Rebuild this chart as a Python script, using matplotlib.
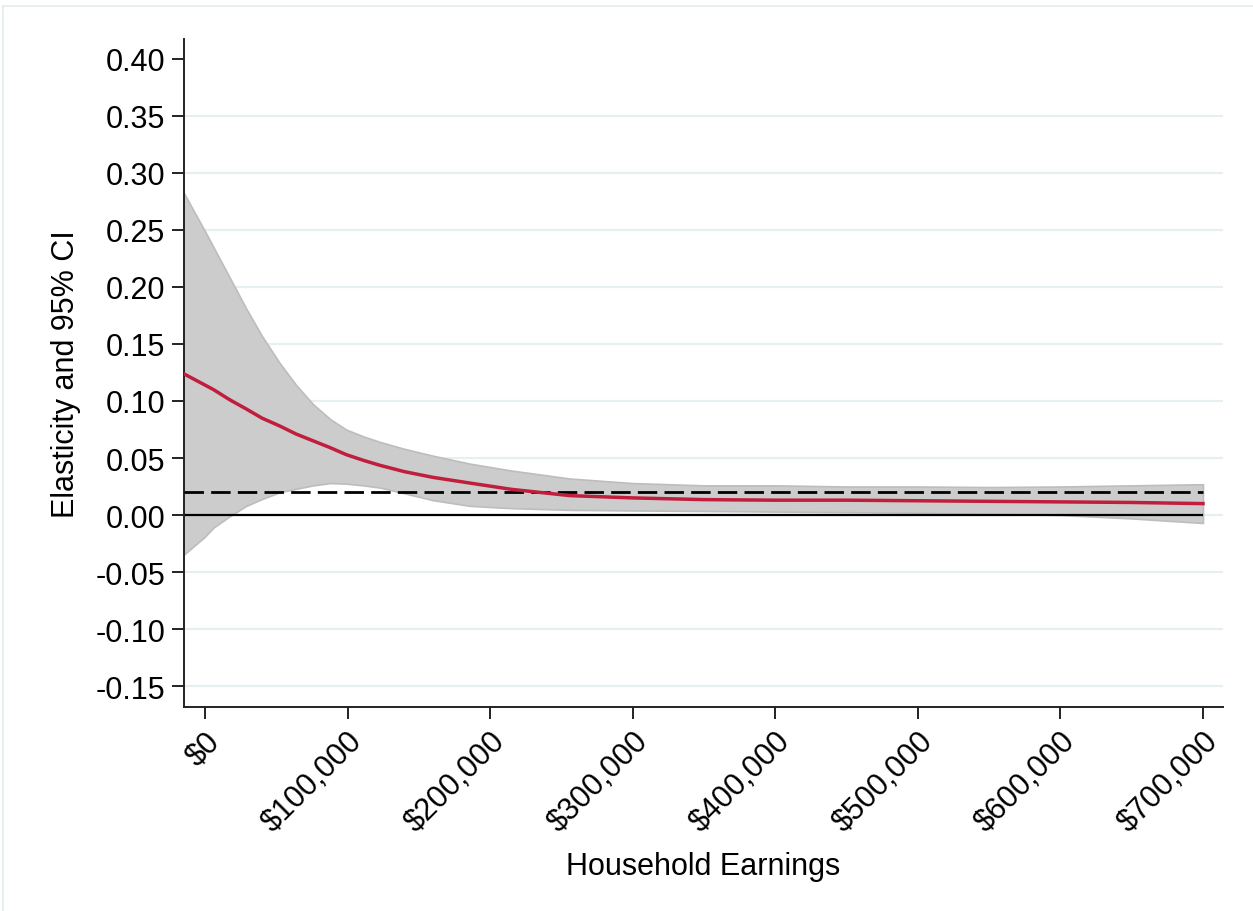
import matplotlib.pyplot as plt
from matplotlib.lines import Line2D

plt.rcParams['font.family'] = ['Liberation Sans', 'DejaVu Sans']

# values (earnings in $, elasticity)
earnings = [-15000, 0, 6000, 17500, 29000, 40000, 52600, 64000, 76000, 88000,
            99000, 111000, 123000, 140000, 160000, 186000, 215000, 256000, 300000,
            350000, 400000, 450000, 500000, 550000, 600000, 650000, 700000]
estimate = [0.124, 0.114, 0.110, 0.101, 0.093, 0.085, 0.078, 0.071, 0.065, 0.059,
            0.053, 0.048, 0.0435, 0.038, 0.033, 0.028, 0.0225, 0.017, 0.015,
            0.0135, 0.013, 0.013, 0.0125, 0.012, 0.0115, 0.011, 0.010]
ci_upper = [0.283, 0.249, 0.235, 0.208, 0.181, 0.157, 0.133, 0.114, 0.097, 0.084,
            0.075, 0.069, 0.064, 0.058, 0.052, 0.045, 0.039, 0.032, 0.028,
            0.026, 0.026, 0.025, 0.025, 0.0245, 0.025, 0.026, 0.027]
ci_lower = [-0.035, -0.019, -0.011, -0.001, 0.008, 0.014, 0.020, 0.023, 0.026, 0.028,
            0.0275, 0.026, 0.024, 0.019, 0.013, 0.008, 0.006, 0.0045, 0.004,
            0.0035, 0.003, 0.0025, 0.002, 0.001, 0.000, -0.003, -0.007]
ref_level = 0.0202

y_ticks = [-0.15, -0.10, -0.05, 0.00, 0.05, 0.10, 0.15, 0.20, 0.25, 0.30, 0.35, 0.40]
x_ticks = [0, 100000, 200000, 300000, 400000, 500000, 600000, 700000]
x_labels = ['$0', '$100,000', '$200,000', '$300,000', '$400,000',
            '$500,000', '$600,000', '$700,000']

fig = plt.figure(figsize=(12.53, 9.12), dpi=100)
ax = fig.add_axes([0.1468, 0.2237, 0.976 - 0.1468, 0.9561 - 0.2237])

# light gridlines (none at the top tick)
for t in y_ticks[:-1]:
    ax.axhline(t, color='#e6eff1', lw=1.6, zorder=0)

ax.fill_between(earnings, ci_lower, ci_upper, facecolor='#cccccc',
                edgecolor='#bdbdbd', lw=1.2, zorder=1)
ax.hlines(0, earnings[0], earnings[-1], color='black', lw=1.6, zorder=2)
ax.hlines(ref_level, earnings[0], earnings[-1], color='black', lw=2.0,
          linestyles=(0, (7, 2.6)), zorder=3)
ax.plot(earnings, estimate, color='#c01e3c', lw=2.5, zorder=4)

ax.set_xlim(-14730, 714000)
ax.set_ylim(-0.1684, 0.4175)
ax.set_yticks(y_ticks)
ax.set_yticklabels([f'{t:.2f}' for t in y_ticks])
ax.set_xticks(x_ticks)
ax.set_xticklabels(x_labels, rotation=45, ha='right', rotation_mode='anchor')

for s in ['top', 'right']:
    ax.spines[s].set_visible(False)
for s in ['left', 'bottom']:
    ax.spines[s].set_linewidth(1.4)
    ax.spines[s].set_color('#222222')
ax.tick_params(axis='both', labelsize=22, length=8.5, width=1.4,
               color='#222222', pad=5)

ax.set_ylabel('Elasticity and 95% CI', fontsize=22, labelpad=10)
ax.set_xlabel('Household Earnings', fontsize=22, labelpad=10)

# thin screenshot frame
fig.add_artist(Line2D([3 / 1253, 1], [1 - 7 / 912, 1 - 7 / 912],
                      transform=fig.transFigure, color='#e3ecec', lw=1.2))
fig.add_artist(Line2D([3 / 1253, 3 / 1253], [0, 1 - 7 / 912],
                      transform=fig.transFigure, color='#e3ecec', lw=1.2))

fig.savefig('out.png', dpi=100)
